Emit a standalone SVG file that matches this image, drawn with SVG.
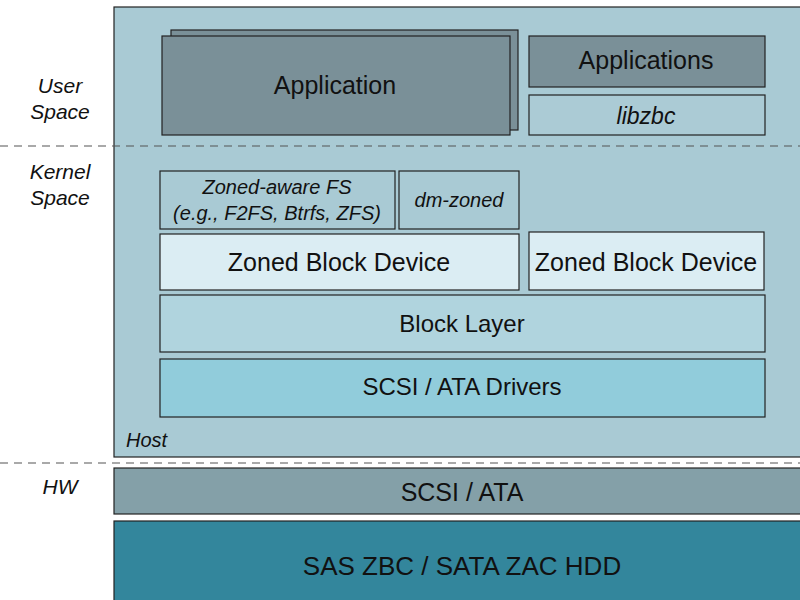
<svg xmlns="http://www.w3.org/2000/svg" width="800" height="600" viewBox="0 0 800 600">
<style>
  text { font-family: "Liberation Sans", Arial, sans-serif; fill: #111; text-anchor: middle; }
  .it { font-style: italic; }
  .box { stroke: #222; stroke-width: 1.2; }
  .dash { stroke: #555; stroke-width: 1.2; stroke-dasharray: 8 6; fill: none; }
</style>
<rect width="800" height="600" fill="#ffffff"/>
<g id="host">
  <rect x="114" y="7" width="700" height="450" fill="#a9cad4" class="box"/>
  <text x="126" y="447" font-size="20" class="it" style="text-anchor:start">Host</text>
</g>
<g id="labels">
  <text x="60" y="93" font-size="21" class="it">User</text>
  <text x="60" y="119" font-size="21" class="it">Space</text>
  <text x="60" y="179" font-size="21" class="it">Kernel</text>
  <text x="60" y="205" font-size="21" class="it">Space</text>
  <text x="60" y="494" font-size="21" class="it">HW</text>
</g>
<g id="separators">
  <line x1="0" y1="146" x2="800" y2="146" class="dash"/>
  <line x1="0" y1="463" x2="800" y2="463" class="dash"/>
</g>
<g id="application">
  <rect x="171" y="30" width="347" height="100" fill="#7a9098" class="box"/>
  <rect x="162" y="36" width="348" height="99" fill="#7a9098" class="box"/>
  <text x="335" y="94" font-size="25">Application</text>
</g>
<g id="applications">
  <rect x="529" y="36" width="236" height="51" fill="#7a9098" class="box"/>
  <text x="646" y="69" font-size="25">Applications</text>
</g>
<g id="libzbc">
  <rect x="529" y="95" width="236" height="40" fill="#abcbd5" class="box"/>
  <text x="646" y="124" font-size="23" class="it">libzbc</text>
</g>
<g id="zoned-fs">
  <rect x="160" y="171" width="235" height="58" fill="#a9cad4" class="box"/>
  <text x="277" y="194" font-size="20" class="it">Zoned-aware FS</text>
  <text x="277" y="220" font-size="20" class="it">(e.g., F2FS, Btrfs, ZFS)</text>
</g>
<g id="dm-zoned">
  <rect x="399" y="171" width="120" height="58" fill="#a9cad4" class="box"/>
  <text x="459" y="207" font-size="20" class="it">dm-zoned</text>
</g>
<g id="zbd1">
  <rect x="160" y="234" width="359" height="56" fill="#dbedf3" class="box"/>
  <text x="339" y="271" font-size="25">Zoned Block Device</text>
</g>
<g id="zbd2">
  <rect x="529" y="232" width="235" height="58" fill="#dbedf3" class="box"/>
  <text x="646" y="271" font-size="25">Zoned Block Device</text>
</g>
<g id="block-layer">
  <rect x="160" y="295" width="605" height="57" fill="#b0d4de" class="box"/>
  <text x="462" y="332" font-size="24">Block Layer</text>
</g>
<g id="drivers">
  <rect x="160" y="359" width="605" height="58" fill="#91ccdb" class="box"/>
  <text x="462" y="395" font-size="24">SCSI / ATA Drivers</text>
</g>
<g id="scsi-ata">
  <rect x="114" y="468" width="700" height="46" fill="#84a0a8" class="box"/>
  <text x="462" y="501" font-size="25">SCSI / ATA</text>
</g>
<g id="hdd">
  <rect x="114" y="521" width="700" height="90" fill="#33869c" class="box"/>
  <text x="462" y="575" font-size="26">SAS ZBC / SATA ZAC HDD</text>
</g>
<g id="connectors"></g>
</svg>
